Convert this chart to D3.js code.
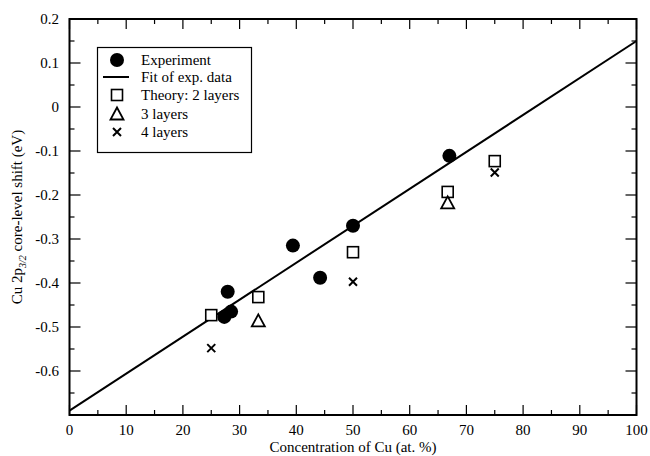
<!doctype html>
<html lang="en">
<head>
<meta charset="utf-8">
<title>Cu 2p3/2 core-level shift</title>
<script src="https://d3js.org/d3.v7.min.js"></script>
<style>
  body { margin: 0; background: #fff; }
</style>
</head>
<body>
<div id="chart"></div>
<script>
// experiment (filled circles)
var expX = [27.3, 28.5, 27.9, 39.4, 44.2, 50.0, 67.0];
var expY = [-0.477, -0.465, -0.42, -0.315, -0.388, -0.27, -0.111];
// linear fit of the experimental data, end points
var fitX = [0, 100];
var fitY = [-0.69, 0.15];
// theory
var th2X = [25, 33.3, 50, 66.7, 75];
var th2Y = [-0.473, -0.432, -0.33, -0.193, -0.123];
var th3X = [33.3, 66.7];
var th3Y = [-0.486, -0.218];
var th4X = [25, 50, 75];
var th4Y = [-0.548, -0.397, -0.149];

var xTicks = [0, 10, 20, 30, 40, 50, 60, 70, 80, 90, 100];
var yTicks = [0.2, 0.1, 0, -0.1, -0.2, -0.3, -0.4, -0.5, -0.6];

var W = 650, H = 456;
var svg = d3.select('#chart').append('svg')
    .attr('width', W).attr('height', H)
    .attr('font-family', "'Liberation Serif', 'DejaVu Serif', serif");

var x = d3.scaleLinear().domain([0, 100]).range([69.5, 636.5]);
var y = d3.scaleLinear().domain([-0.7, 0.2]).range([415, 19]);

function zip(a, b) { return a.map(function(v, i) { return [v, b[i]]; }); }

// ticks: major + minor, inward on all four sides
var xMinor = d3.range(0, 101, 5);
var yMinor = d3.range(-0.7, 0.2001, 0.05);
var axes = svg.append('g').attr('stroke', '#000').attr('stroke-width', 1.2);

function isMajorX(v) { return Math.abs(v % 10) < 1e-6; }
function isMajorY(v) { return Math.abs(Math.round(v * 10) - v * 10) < 1e-6; }

xMinor.forEach(function(v) {
  var len = isMajorX(v) ? 10 : 5;
  axes.append('line').attr('x1', x(v)).attr('x2', x(v)).attr('y1', y(-0.7)).attr('y2', y(-0.7) - len);
  axes.append('line').attr('x1', x(v)).attr('x2', x(v)).attr('y1', y(0.2)).attr('y2', y(0.2) + len);
});
yMinor.forEach(function(v) {
  var len = isMajorY(v) ? 11 : 5;
  axes.append('line').attr('x1', x(0)).attr('x2', x(0) + len).attr('y1', y(v)).attr('y2', y(v));
  axes.append('line').attr('x1', x(100)).attr('x2', x(100) - len).attr('y1', y(v)).attr('y2', y(v));
});

svg.append('rect')
  .attr('x', x(0)).attr('y', y(0.2))
  .attr('width', x(100) - x(0)).attr('height', y(-0.7) - y(0.2))
  .attr('fill', 'none').attr('stroke', '#000').attr('stroke-width', 2);

// tick labels
svg.append('g').selectAll('text').data(xTicks).enter().append('text')
  .attr('x', function(d) { return x(d); })
  .attr('y', 435)
  .attr('text-anchor', 'middle')
  .attr('font-size', 15)
  .text(function(d) { return d; });

svg.append('g').selectAll('text').data(yTicks).enter().append('text')
  .attr('x', 59)
  .attr('y', function(d) { return y(d) + 5; })
  .attr('text-anchor', 'end')
  .attr('font-size', 15)
  .text(function(d) { return d === 0 ? '0' : d.toFixed(1); });

// axis titles
svg.append('text')
  .attr('x', (x(0) + x(100)) / 2).attr('y', 452)
  .attr('text-anchor', 'middle')
  .attr('font-size', 15)
  .text('Concentration of Cu (at. %)');

var yl = svg.append('text')
  .attr('transform', 'translate(22,' + ((y(0.2) + y(-0.7)) / 2) + ') rotate(-90)')
  .attr('text-anchor', 'middle')
  .attr('font-size', 15);
yl.append('tspan').text('Cu 2p');
yl.append('tspan').attr('dy', 4).attr('font-size', 10).attr('font-style', 'italic').text('3/2');
yl.append('tspan').attr('dy', -4).text(' core-level shift (eV)');

// fit line
var line = d3.line().x(function(d) { return x(d[0]); }).y(function(d) { return y(d[1]); });
svg.append('path').datum(zip(fitX, fitY))
  .attr('d', line).attr('fill', 'none').attr('stroke', '#000').attr('stroke-width', 2);

// marker helpers
function square(g, cx, cy) {
  g.append('rect').attr('x', cx - 5.5).attr('y', cy - 5.5).attr('width', 11).attr('height', 11)
    .attr('fill', '#fff').attr('stroke', '#000').attr('stroke-width', 1.6);
}
function triangle(g, cx, cy) {
  g.append('path').attr('d', 'M' + cx + ',' + (cy - 6.5) + 'L' + (cx + 6.5) + ',' + (cy + 5.5) + 'L' + (cx - 6.5) + ',' + (cy + 5.5) + 'Z')
    .attr('fill', '#fff').attr('stroke', '#000').attr('stroke-width', 1.8);
}
function cross(g, cx, cy) {
  g.append('path').attr('d', 'M' + (cx - 4) + ',' + (cy - 4) + 'L' + (cx + 4) + ',' + (cy + 4) + 'M' + (cx + 4) + ',' + (cy - 4) + 'L' + (cx - 4) + ',' + (cy + 4))
    .attr('stroke', '#000').attr('stroke-width', 2).attr('fill', 'none');
}

var pts = svg.append('g');
zip(th2X, th2Y).forEach(function(d) { square(pts, x(d[0]), y(d[1])); });
zip(th3X, th3Y).forEach(function(d) { triangle(pts, x(d[0]), y(d[1])); });
zip(th4X, th4Y).forEach(function(d) { cross(pts, x(d[0]), y(d[1])); });
pts.selectAll('circle').data(zip(expX, expY)).enter().append('circle')
  .attr('cx', function(d) { return x(d[0]); })
  .attr('cy', function(d) { return y(d[1]); })
  .attr('r', 7).attr('fill', '#000');

// legend
var lg = svg.append('g');
lg.append('rect').attr('x', 97.5).attr('y', 47.5).attr('width', 154).attr('height', 105)
  .attr('fill', '#fff').attr('stroke', '#000').attr('stroke-width', 1.2);
var rowY = [60, 77, 95, 114, 132];
var labels = ['Experiment', 'Fit of exp. data', 'Theory: 2 layers', '3 layers', '4 layers'];
lg.append('circle').attr('cx', 117).attr('cy', rowY[0]).attr('r', 7).attr('fill', '#000');
lg.append('line').attr('x1', 103).attr('x2', 129).attr('y1', rowY[1]).attr('y2', rowY[1])
  .attr('stroke', '#000').attr('stroke-width', 2);
square(lg, 117, rowY[2]);
triangle(lg, 117, rowY[3]);
cross(lg, 117, rowY[4]);
lg.selectAll('text').data(labels).enter().append('text')
  .attr('x', 141)
  .attr('y', function(d, i) { return rowY[i] + 5; })
  .attr('font-size', 15)
  .text(function(d) { return d; });
</script>
</body>
</html>
